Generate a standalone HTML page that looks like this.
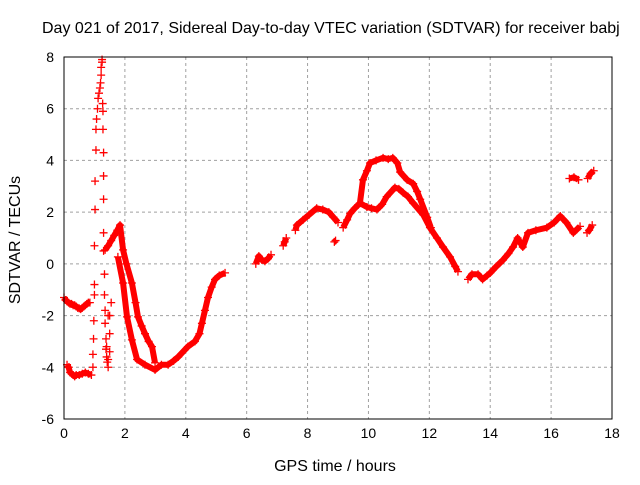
<!DOCTYPE html>
<html><head><meta charset="utf-8"><style>
body{margin:0;background:#fff}
text{font-family:"Liberation Sans",sans-serif;font-size:14px;fill:#000}
.big{font-size:16px}
</style></head><body>
<svg id="c" width="640" height="480">
<text class="big" x="42" y="33">Day 021 of 2017, Sidereal Day-to-day VTEC variation (SDTVAR) for receiver babj</text>
<text class="big" x="335" y="471" text-anchor="middle">GPS time / hours</text>
<text class="big" x="0" y="0" transform="translate(20,240) rotate(-90)" text-anchor="middle">SDTVAR / TECUs</text>
<g id="grid"></g><g id="series"></g>
<rect x="64" y="57" width="548" height="362" fill="none" stroke="#000"/>
</svg>
<script>
const xTicks=[0,2,4,6,8,10,12,14,16,18];
const yTicks=[-6,-4,-2,0,2,4,6,8];
const scatterX=[0.95,0.95,0.97,0.98,1.0,1.0,1.0,1.02,1.02,1.05,1.05,1.07,1.1,1.12,1.15,1.18,1.2,1.22,1.22,1.25,1.25,1.27,1.28,1.28,1.3,1.3,1.3,1.3,1.3,1.33,1.33,1.35,1.35,1.38,1.38,1.4,1.42,1.45,1.45,1.5,1.5,1.5,1.55,1.45,1.4];
const scatterY=[-4.0,-3.5,-2.9,-2.2,-1.2,-0.8,0.7,2.1,3.2,4.4,5.2,5.6,6.0,6.4,6.6,6.8,7.0,7.3,7.6,7.8,7.9,6.2,5.9,5.2,4.3,3.4,2.5,1.2,0.5,-0.4,-1.2,-1.8,-2.3,-2.9,-3.3,-3.6,-3.8,-4.0,-3.7,-3.4,-2.7,-2.0,-1.5,-2.0,-3.2];
const segX=[
[0,0.05,0.1,0.15,0.2,0.25,0.3,0.35,0.4,0.45,0.5,0.55,0.6,0.65,0.7,0.75,0.8,0.85],
[0.1,0.15,0.2,0.25,0.3,0.35,0.4,0.5,0.6,0.7,0.8,0.9],
[1.35,1.45,1.55,1.65,1.75,1.84,1.94,2.05,2.23,2.35,2.43,2.55,2.66,2.78,2.89,2.99],
[1.77,1.94,2.07,2.23,2.4,2.66,2.99,3.2,3.42,3.6,3.75,4.07,4.3,4.45,4.53,4.63,4.73,4.85,4.96,5.1,5.29],
[6.3,6.4,6.5,6.6,6.7,6.8],
[7.2,7.25,7.3],
[7.6,7.65,7.85,8.05,8.3,8.5,8.7,8.85,9.0],
[8.88,8.92],
[9.17,9.3,9.4,9.55,9.72,9.82,9.95,10.05,10.25,10.48,10.65,10.8,10.95,11.04,11.27,11.47,11.6,11.7,11.93,12.05],
[9.72,9.95,10.1,10.28,10.45,10.6,10.87,11.0,11.14,11.3,11.47,11.8,12.02,12.25,12.45,12.68,12.85,12.94],
[13.27,13.4,13.6,13.75,13.9,14.0,14.2,14.42,14.6,14.75,14.9,15.07,15.24,15.5,15.86,16.1,16.3,16.5,16.73,16.95],
[17.18,17.25,17.35],
[16.6,16.75,16.9],
[17.2,17.3,17.4]];
const segY=[
[-1.3,-1.4,-1.45,-1.5,-1.55,-1.55,-1.6,-1.6,-1.65,-1.7,-1.72,-1.75,-1.7,-1.65,-1.6,-1.55,-1.5,-1.5],
[-3.9,-4.0,-4.2,-4.25,-4.3,-4.35,-4.3,-4.3,-4.25,-4.2,-4.25,-4.3],
[0.54,0.7,0.9,1.1,1.3,1.5,0.54,0.0,-0.74,-1.5,-2.05,-2.4,-2.7,-3.0,-3.2,-3.83],
[0.27,-0.74,-2.05,-2.94,-3.7,-3.9,-4.1,-3.9,-3.9,-3.75,-3.6,-3.2,-3.0,-2.7,-2.3,-1.8,-1.3,-0.9,-0.6,-0.45,-0.35],
[0.0,0.3,0.15,0.1,0.2,0.35],
[0.7,0.85,1.0],
[1.3,1.5,1.7,1.9,2.15,2.1,2.0,1.8,1.6],
[0.85,0.9],
[1.4,1.7,1.95,2.15,2.35,3.25,3.6,3.9,4.0,4.1,4.05,4.1,3.9,3.55,3.25,3.1,2.8,2.5,1.8,1.4],
[2.35,2.2,2.15,2.1,2.3,2.6,2.95,2.9,2.75,2.6,2.35,1.9,1.4,1.0,0.65,0.27,-0.1,-0.3],
[-0.6,-0.4,-0.4,-0.6,-0.45,-0.35,-0.1,0.15,0.4,0.65,1.0,0.65,1.2,1.3,1.4,1.6,1.85,1.6,1.2,1.45],
[1.2,1.3,1.5],
[3.3,3.35,3.25],
[3.3,3.5,3.6]];
const X0=64,X1=612,Y0=419,Y1=57;
function sx(v){return X0+(v-0)/18*(X1-X0);}
function sy(v){return Y0-(v+6)/14*(Y0-Y1);}
const NS='http://www.w3.org/2000/svg';
const grid=document.getElementById('grid'),ser=document.getElementById('series');
xTicks.forEach(t=>{const x=sx(t);
 if(t>0&&t<18){const l=document.createElementNS(NS,'line');l.setAttribute('x1',x);l.setAttribute('x2',x);l.setAttribute('y1',Y1);l.setAttribute('y2',Y0);l.setAttribute('stroke','#a0a0a0');l.setAttribute('stroke-dasharray','3,3');
 
 grid.appendChild(l);}
 const tx=document.createElementNS(NS,'text');tx.setAttribute('x',x);tx.setAttribute('y',Y0+19);tx.setAttribute('text-anchor','middle');tx.textContent=t;
 
 grid.appendChild(tx);});
yTicks.forEach(t=>{const y=sy(t);
 if(t>-6&&t<8){const l=document.createElementNS(NS,'line');l.setAttribute('x1',X0);l.setAttribute('x2',X1);l.setAttribute('y1',y);l.setAttribute('y2',y);l.setAttribute('stroke','#a0a0a0');l.setAttribute('stroke-dasharray','3,3');
 
 grid.appendChild(l);}
 const tx=document.createElementNS(NS,'text');tx.setAttribute('x',X0-10);tx.setAttribute('y',y+5);tx.setAttribute('text-anchor','end');tx.textContent=t;
 
 grid.appendChild(tx);});
function plus(x,y){const p=document.createElementNS(NS,'path');
 p.setAttribute('d',`M${x-4},${y}h8M${x},${y-4}v8`);p.setAttribute('stroke','#f00');p.setAttribute('stroke-width','1.3');
 
 ser.appendChild(p);}
segX.forEach((xs,i)=>{const ys=segY[i];
 const pl=document.createElementNS(NS,'polyline');
 pl.setAttribute('points',xs.map((v,j)=>sx(v)+','+sy(ys[j])).join(' '));
 pl.setAttribute('fill','none');pl.setAttribute('stroke','#f00');pl.setAttribute('stroke-width','6');pl.setAttribute('stroke-linejoin','round');
 
 ser.appendChild(pl);
 xs.forEach((v,j)=>plus(sx(v),sy(ys[j])));});
scatterX.forEach((v,j)=>plus(sx(v),sy(scatterY[j])));
</script>
</body></html>
